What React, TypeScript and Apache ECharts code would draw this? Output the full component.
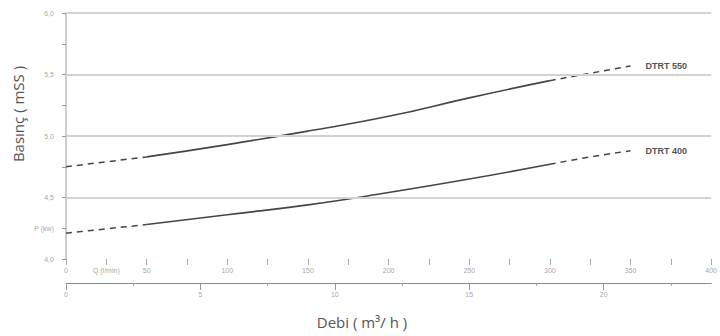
import React, { useEffect, useRef } from "react";
import * as echarts from "echarts";

// Flow in l/min (top axis) and head in mSS
const qPoints = [0, 25, 50, 100, 150, 200, 250, 300, 325, 350];
const dtrt550 = [4.75, 4.79, 4.83, 4.93, 5.04, 5.16, 5.31, 5.45, 5.51, 5.57];
const dtrt400 = [4.21, 4.245, 4.28, 4.36, 4.44, 4.54, 4.65, 4.77, 4.83, 4.88];
// indices splitting dashed start / solid middle / dashed end
const solidFrom = 2;
const solidTo = 7;

const qLabelValues = [0, 25, 50, 100, 150, 200, 250, 300, 350, 400];
const m3MajorTicks = [0, 5, 10, 15, 20];
const m3MinorTicks = [2.5, 7.5, 12.5, 17.5, 22.5];
const gridLevels = [4.5, 5, 5.5, 6];

const curveNames = ["DTRT 550", "DTRT 400"];

const LINE = "#454545";

function pts(vals: number[], a: number, b: number) {
  const out: number[][] = [];
  for (let i = a; i <= b; i++) out.push([qPoints[i], vals[i]]);
  return out;
}

function curveSeries(vals: number[], name: string) {
  const base = {
    type: "line",
    xAxisIndex: 0,
    yAxisIndex: 0,
    smooth: true,
    symbol: "none",
    silent: true,
  };
  return [
    { ...base, name: name + " a", data: pts(vals, 0, solidFrom), lineStyle: { color: LINE, width: 1.5, type: [6, 5] } },
    { ...base, name: name, data: pts(vals, solidFrom, solidTo), lineStyle: { color: LINE, width: 1.6 } },
    {
      ...base,
      name: name + " b",
      data: pts(vals, solidTo, vals.length - 1),
      lineStyle: { color: LINE, width: 1.5, type: [6, 5] },
      endLabel: {
        show: true,
        formatter: name,
        distance: 15,
        color: "#555",
        fontSize: 9,
        fontWeight: 600,
        fontFamily: "Liberation Sans, Arial, sans-serif",
      },
    },
  ];
}

export default function App() {
  const ref = useRef<HTMLDivElement>(null);
  useEffect(() => {
    if (!ref.current) return;
    const chart = echarts.init(ref.current, null, { renderer: "svg" });
    const tickFont = { fontSize: 7, color: "#a8a8a8", fontFamily: "Liberation Sans, Arial, sans-serif" };
    chart.setOption({
      animation: false,
      backgroundColor: "#fff",
      grid: { left: 66, right: 8, top: 13, bottom: 77 },
      xAxis: [
        {
          type: "value",
          min: 0,
          max: 400,
          interval: 25,
          position: "bottom",
          axisLine: { show: false },
          axisTick: { show: true, length: 6, lineStyle: { color: "#aaa" } },
          axisLabel: {
            ...tickFont,
            margin: 8,
            customValues: qLabelValues,
            formatter: (v: number) => (v === 25 ? "Q (l/min)" : String(v)),
          },
          splitLine: { show: false },
        },
        {
          type: "value",
          min: 0,
          max: 24,
          position: "bottom",
          offset: 24,
          axisLine: { show: true, lineStyle: { color: "#8a8a8a", width: 1 } },
          axisTick: { show: true, length: 7, customValues: m3MajorTicks, lineStyle: { color: "#999" } },
          axisLabel: { ...tickFont, margin: 8, customValues: m3MajorTicks },
          splitLine: { show: false },
        },
        {
          type: "value",
          min: 0,
          max: 24,
          position: "bottom",
          offset: 24,
          axisLine: { show: false },
          axisTick: { show: true, length: 3, customValues: m3MinorTicks, lineStyle: { color: "#aaa" } },
          axisLabel: { show: false },
          splitLine: { show: false },
        },
      ],
      yAxis: [
        {
          type: "value",
          min: 4,
          max: 6,
          interval: 0.25,
          axisLine: { show: false },
          axisTick: { show: true, length: 4, lineStyle: { color: "#999" } },
          axisLabel: {
            ...tickFont,
            margin: 12,
            formatter: (v: number) => {
              if (Math.abs(v - 4.25) < 1e-6) return "P (kw)";
              if (Math.abs(v * 2 - Math.round(v * 2)) < 1e-6) return v.toFixed(1).replace(".", ",");
              return "";
            },
          },
          splitLine: { show: false },
        },
        {
          type: "value",
          min: 4,
          max: 6,
          position: "right",
          axisLine: { show: true, lineStyle: { color: "#bdbdbd", width: 1.5 } },
          axisTick: { show: false },
          axisLabel: { show: false },
          splitLine: { show: false },
        },
      ],
      graphic: [
        {
          type: "text",
          x: 18,
          y: 114,
          rotation: Math.PI / 2,
          style: {
            text: "Basınç ( mSS )",
            fill: "#555",
            font: "15px 'Open Sans', sans-serif",
            align: "center",
            verticalAlign: "middle",
          },
        },
        {
          type: "text",
          x: 362,
          y: 322,
          style: {
            text: "Debi ( m³/ h )",
            fill: "#555",
            font: "15px 'Open Sans', sans-serif",
            align: "center",
            verticalAlign: "middle",
          },
        },
      ],
      series: [
        {
          type: "line",
          name: "grid",
          data: [],
          xAxisIndex: 0,
          yAxisIndex: 0,
          silent: true,
          markLine: {
            silent: true,
            symbol: "none",
            label: { show: false },
            lineStyle: { color: "#d2d2d2", width: 2, type: "solid" },
            data: gridLevels.map((y) => ({ yAxis: y })),
          },
        },
        ...curveSeries(dtrt550, curveNames[0]),
        ...curveSeries(dtrt400, curveNames[1]),
      ],
    });
    return () => chart.dispose();
  }, []);
  return (
    <div
      ref={ref}
      style={{ position: "absolute", left: 0, top: 0, width: 720, height: 336 }}
    />
  );
}
